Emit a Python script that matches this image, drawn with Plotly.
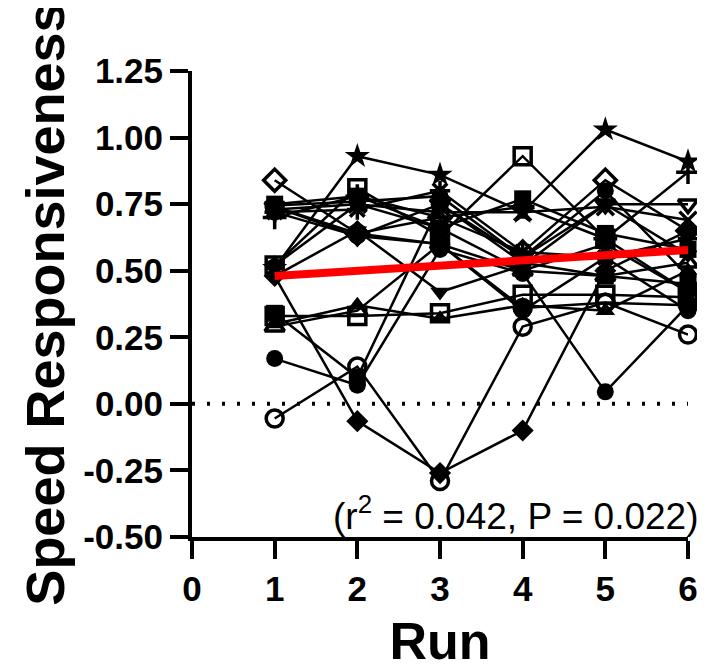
import plotly.graph_objects as go

# ---------------- data ----------------
runs = [1, 2, 3, 4, 5, 6]

subj_star        = [0.51, 0.93, 0.86, 0.72, 1.03, 0.91]
subj_sq_open     = [0.52, 0.81, 0.63, 0.93, 0.62, 0.42]
subj_dia_open    = [0.84, 0.64, 0.70, 0.57, 0.84, 0.65]
subj_sq          = [0.75, 0.78, 0.66, 0.77, 0.64, 0.58]
subj_circ        = [0.745, 0.76, 0.78, 0.55, 0.80, 0.48]
subj_x           = [0.73, 0.75, 0.72, 0.72, 0.74, 0.69]
subj_ast         = [0.72, 0.73, 0.80, 0.57, 0.55, 0.62]
subj_circ_open   = [-0.055, 0.14, -0.29, 0.29, 0.38, 0.26]
subj_dia         = [0.48, -0.065, -0.26, -0.10, 0.50, 0.65]
subj_tri_dn      = [0.48, 0.65, 0.42, 0.52, 0.75, 0.56]
subj_tri_up_open = [0.29, 0.35, 0.60, 0.50, 0.48, 0.53]
subj_tri_up      = [0.30, 0.37, 0.32, 0.37, 0.35, 0.50]
subj_circ2       = [0.17, 0.07, 0.58, 0.49, 0.045, 0.37]
subj_sq2         = [0.34, 0.10, 0.75, 0.53, 0.48, 0.45]
subj_sq_open2    = [0.33, 0.33, 0.34, 0.41, 0.41, 0.40]
subj_tri_dn_open = [0.74, 0.63, 0.75, 0.55, 0.75, 0.75]
subj_cross       = [0.70, 0.78, 0.70, 0.74, 0.62, 0.87]
subj_circ3       = [0.72, 0.63, 0.60, 0.35, 0.55, 0.35]
subj_hex         = [0.52, 0.75, 0.66, 0.50, 0.60, 0.42]
subj_circ_open2  = [0.74, 0.64, 0.60, 0.36, 0.38, 0.37]

fit_runs = [1, 6]
fit_vals = [0.48, 0.578]

y_ticks = [-0.50, -0.25, 0.00, 0.25, 0.50, 0.75, 1.00, 1.25]
x_ticks = [0, 1, 2, 3, 4, 5, 6]
stats_text = "(r<sup>2</sup> = 0.042, P = 0.022)"

# ---------------- styles ----------------
series = [
    (subj_star, "star"), (subj_sq_open, "square-open"), (subj_dia_open, "diamond-open"),
    (subj_sq, "square"), (subj_circ, "circle"), (subj_x, "x-thin-open"),
    (subj_ast, "asterisk-open"), (subj_circ_open, "circle-open"), (subj_dia, "diamond"),
    (subj_tri_dn, "triangle-down"), (subj_tri_up_open, "triangle-up-open"),
    (subj_tri_up, "triangle-up"), (subj_circ2, "circle"), (subj_sq2, "square"),
    (subj_sq_open2, "square-open"), (subj_tri_dn_open, "triangle-down-open"),
    (subj_cross, "cross-thin-open"), (subj_circ3, "circle"), (subj_hex, "hexagon"),
    (subj_circ_open2, "circle-open"),
]

FONT = "Liberation Sans, Arial, sans-serif"

fig = go.Figure()

# zero reference line
fig.add_trace(go.Scatter(x=[0, 6], y=[0, 0], mode="lines",
                         line=dict(color="black", width=4, dash="3px,12px"),
                         hoverinfo="skip", showlegend=False, cliponaxis=False))

for vals, sym in series:
    is_open = sym.endswith("-open")
    fig.add_trace(go.Scatter(
        x=runs, y=vals, mode="lines+markers",
        line=dict(color="black", width=2.5),
        marker=dict(symbol=sym, size=17 if sym != "star" else 19,
                    color="black",
                    line=dict(color="black", width=3.5 if is_open else 0)),
        showlegend=False, cliponaxis=False))

# regression line
fig.add_trace(go.Scatter(x=fit_runs, y=fit_vals, mode="lines",
                         line=dict(color="#ff0000", width=8),
                         showlegend=False, cliponaxis=False))

# page body has an 8px default margin, so the figure is 8px smaller
fig.update_layout(
    width=697, height=662,
    margin=dict(l=184, r=17, t=63, b=133),
    paper_bgcolor="white", plot_bgcolor="white",
    font=dict(family=FONT, color="black"),
    xaxis=dict(range=[0, 6], tickvals=x_ticks, ticktext=[str(v) for v in x_ticks],
               automargin=False,
               showgrid=False, zeroline=False, showline=True, linecolor="black",
               linewidth=4, ticks="outside", ticklen=18, tickwidth=4, tickcolor="black",
               tickfont=dict(size=35, family=FONT, weight="bold"),
               title=dict(text="<b>Run</b>", font=dict(size=52, family=FONT), standoff=26)),
    yaxis=dict(range=[-0.5, 1.25], tickvals=y_ticks, ticktext=[f"{v:.2f}" for v in y_ticks],
               automargin=False,
               showgrid=False, zeroline=False, showline=True, linecolor="black",
               linewidth=4, ticks="outside", ticklen=18, tickwidth=4, tickcolor="black",
               tickfont=dict(size=35, family=FONT, weight="bold"),
               title=dict(text="<b>Speed Responsiveness</b>", font=dict(size=54, family=FONT),
                          standoff=2)),
    annotations=[dict(text=stats_text, xref="paper", yref="y",
                      x=1.024, y=-0.41, xanchor="right", yanchor="middle",
                      showarrow=False, font=dict(size=37, family=FONT, color="black"))],
)

fig.write_html("out.html")
